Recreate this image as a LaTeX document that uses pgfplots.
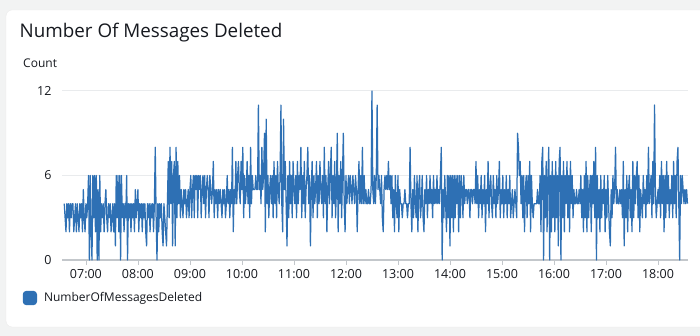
\documentclass[border=0pt]{standalone}
\usepackage{pgfplots}
\usepackage{pgfplotstable}
\pgfplotsset{compat=1.18}
\usepackage{fontspec}
\setmainfont{Open Sans}
\definecolor{bgcol}{RGB}{242,243,243}
\definecolor{txtcol}{RGB}{22,25,31}
\definecolor{gridcol}{RGB}{233,235,237}
\definecolor{basecol}{RGB}{195,199,203}
\definecolor{linecol}{RGB}{46,112,180}
\pgfplotstableread[header=false,row sep=\\]{
4\\3\\2\\4\\3\\4\\2\\4\\3\\4\\4\\2\\3\\4\\2\\4\\3\\2\\4\\3\\4\\2\\5\\3\\2\\4\\3\\4\\6\\0\\6\\2\\0\\6\\3\\6\\2\\6\\0\\5\\0\\6\\2\\4\\3\\4\\2\\4\\5\\3\\2\\4\\3\\4\\2\\3\\4\\2\\4\\1\\
6\\3\\6\\2\\6\\0\\6\\3\\4\\2\\4\\3\\6\\0\\4\\3\\4\\2\\4\\3\\4\\2\\5\\3\\4\\5\\2\\4\\3\\4\\2\\4\\3\\4\\2\\1\\4\\3\\4\\2\\4\\3\\4\\2\\4\\8\\3\\0\\4\\2\\4\\3\\4\\2\\1\\4\\3\\2\\1\\4\\
7\\3\\8\\4\\7\\1\\6\\7\\1\\8\\3\\7\\4\\6\\3\\5\\4\\3\\5\\4\\5\\3\\4\\5\\3\\5\\6\\3\\5\\6\\3\\6\\5\\6\\3\\6\\5\\6\\3\\5\\6\\4\\6\\3\\5\\6\\5\\3\\6\\5\\4\\5\\7\\3\\5\\4\\5\\3\\5\\4\\
5\\4\\3\\5\\4\\5\\3\\4\\6\\4\\5\\3\\5\\4\\8\\2\\5\\4\\7\\4\\6\\7\\5\\4\\7\\5\\8\\3\\6\\4\\5\\7\\4\\6\\3\\8\\4\\6\\5\\5\\5\\6\\5\\5\\11\\5\\6\\4\\8\\5\\6\\9\\2\\10\\4\\6\\3\\5\\6\\4\\
6\\3\\7\\4\\6\\3\\7\\5\\4\\6\\11\\4\\2\\10\\5\\7\\4\\1\\6\\3\\7\\4\\6\\3\\7\\5\\4\\6\\3\\7\\4\\6\\5\\8\\3\\6\\4\\7\\3\\5\\6\\8\\4\\6\\1\\5\\7\\3\\6\\4\\5\\7\\3\\6\\4\\7\\5\\4\\6\\3\\
8\\4\\6\\2\\5\\7\\4\\6\\8\\3\\6\\4\\7\\3\\5\\9\\2\\6\\4\\7\\3\\6\\9\\4\\2\\6\\4\\5\\6\\4\\6\\5\\4\\6\\5\\4\\6\\5\\2\\5\\7\\4\\6\\4\\8\\4\\6\\4\\5\\4\\4\\5\\4\\4\\5\\12\\5\\4\\6\\4\\
6\\11\\5\\6\\5\\4\\6\\3\\2\\5\\6\\5\\6\\5\\7\\5\\6\\4\\6\\3\\5\\2\\6\\4\\3\\6\\2\\5\\4\\4\\3\\4\\4\\5\\4\\4\\3\\4\\4\\8\\4\\2\\5\\3\\6\\4\\3\\6\\2\\5\\6\\3\\4\\6\\3\\2\\5\\4\\6\\3\\
5\\4\\6\\4\\5\\3\\6\\4\\5\\4\\6\\4\\5\\4\\6\\8\\0\\5\\3\\6\\4\\2\\6\\3\\6\\1\\6\\3\\6\\2\\6\\3\\6\\4\\6\\2\\6\\3\\6\\5\\3\\6\\4\\5\\5\\4\\5\\5\\3\\5\\5\\4\\5\\5\\4\\7\\4\\6\\3\\5\\
4\\6\\3\\5\\4\\6\\2\\5\\4\\7\\3\\5\\6\\4\\3\\6\\4\\5\\3\\6\\4\\5\\7\\3\\5\\4\\6\\3\\5\\4\\6\\3\\5\\4\\6\\3\\4\\5\\3\\4\\5\\4\\3\\9\\8\\6\\7\\4\\6\\3\\6\\2\\5\\6\\3\\6\\4\\7\\2\\6\\
4\\3\\4\\4\\4\\4\\5\\4\\4\\6\\2\\7\\8\\0\\6\\3\\7\\2\\6\\8\\0\\6\\2\\7\\3\\6\\2\\7\\3\\6\\1\\7\\8\\0\\6\\3\\7\\2\\6\\4\\7\\3\\6\\2\\7\\4\\6\\3\\5\\4\\4\\5\\4\\4\\5\\4\\6\\3\\5\\2\\
6\\3\\7\\2\\6\\3\\5\\6\\2\\6\\4\\7\\3\\8\\0\\6\\3\\5\\2\\6\\3\\5\\4\\6\\2\\5\\3\\6\\4\\2\\1\\5\\3\\6\\4\\5\\8\\4\\5\\4\\4\\5\\4\\5\\3\\7\\1\\5\\3\\6\\2\\5\\6\\3\\5\\2\\7\\3\\6\\4\\
6\\7\\3\\6\\2\\5\\4\\3\\6\\4\\5\\3\\6\\4\\8\\4\\5\\6\\3\\7\\4\\11\\5\\3\\4\\5\\4\\6\\3\\7\\4\\6\\2\\6\\3\\7\\4\\6\\3\\5\\4\\6\\3\\7\\4\\6\\3\\7\\8\\4\\0\\6\\4\\6\\5\\4\\5\\4\\5\\4\\
}\msgdata
\begin{document}
\begin{tikzpicture}[x=1pt,y=1pt]
\useasboundingbox (0,0) rectangle (700,336);
\fill[bgcol] (0,0) rectangle (700,336);
\begin{scope}
\clip (0,0) rectangle (700,336);
\fill[white, draw=black!8, rounded corners=6pt] (6,9) rectangle (720,326);
\end{scope}
\node[anchor=base west, inner sep=0pt, text=txtcol, font=\fontsize{18.8}{21}\selectfont] at (19.5,298) {Number Of Messages Deleted};
\node[anchor=base west, inner sep=0pt, text=txtcol, font=\fontsize{12}{14}\selectfont] at (23,268) {Count};
\begin{axis}[
  at={(62pt,76pt)}, anchor=south west,
  scale only axis, width=626pt, height=169pt,
  xmin=6.54, xmax=18.577, ymin=0, ymax=12,
  clip=false,
  axis line style={draw=none},
  ytick={6,12}, extra y ticks={0},
  ymajorgrids, grid style={draw=gridcol, line width=1pt},
  extra y tick style={grid style={draw=basecol, line width=2.6pt}},
  xtick={7,8,9,10,11,12,13,14,15,16,17,18},
  xticklabels={07:00,08:00,09:00,10:00,11:00,12:00,13:00,14:00,15:00,16:00,17:00,18:00},
  xtick pos=bottom, tick align=outside, major tick length=5pt,
  x tick style={draw=basecol, line width=0.8pt},
  y tick style={draw=none},
  /pgf/number format/assume math mode=true,
  tick label style={font=\fontsize{12.5}{14}\selectfont, text=txtcol},
  xticklabel style={yshift=-1pt},
  yticklabel style={xshift=-2pt},
  legend style={at={(axis description cs:-0.063,-0.225)}, anchor=west, draw=none, fill=none, inner sep=0pt,
    font=\fontsize{12}{14}\selectfont, text=txtcol,
    /tikz/every odd column/.append style={column sep=5pt}},
  legend image code/.code={\fill[linecol, rounded corners=3pt] (0pt,-6.5pt) rectangle (13pt,6.5pt);},
]
\addplot[linecol, line width=1.25pt, line join=round] table[x expr=6.5833+\coordindex/60, y index=0] {\msgdata};
\addlegendentry{NumberOfMessagesDeleted}
\end{axis}
\end{tikzpicture}
\end{document}
